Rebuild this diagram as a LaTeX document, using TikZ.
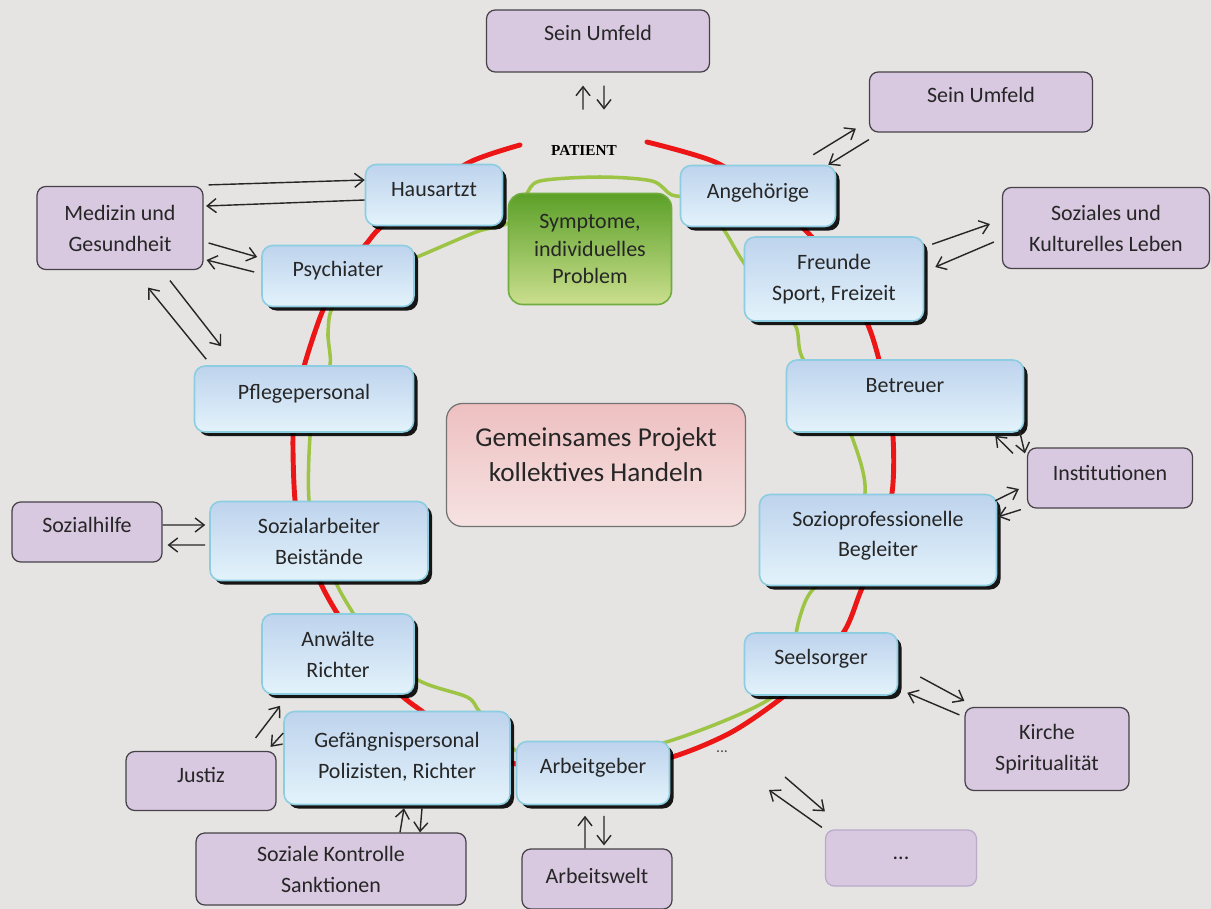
\documentclass[tikz,border=0pt]{standalone}
\usepackage{fontspec}
\setmainfont{Carlito}
\newfontfamily\patientfont{Liberation Serif}
\usepackage{tikz}
\usepackage{xcolor}
\usetikzlibrary{arrows.meta, positioning, backgrounds, calc, shadows}

\definecolor{paper}{RGB}{229,228,227}
\definecolor{roleline}{RGB}{140,205,225}
\definecolor{roletop}{RGB}{190,211,237}
\definecolor{rolebottom}{RGB}{227,243,251}
\definecolor{fieldfill}{RGB}{216,200,224}
\definecolor{fieldline}{RGB}{70,66,72}
\definecolor{fieldlight}{RGB}{185,170,200}
\definecolor{coretop}{RGB}{92,160,40}
\definecolor{corebottom}{RGB}{202,223,142}
\definecolor{coreline}{RGB}{112,172,62}
\definecolor{projecttop}{RGB}{238,192,193}
\definecolor{projectbottom}{RGB}{246,226,226}
\definecolor{ringred}{RGB}{236,22,22}
\definecolor{ringgreen}{RGB}{158,196,70}

\begin{document}
\begin{tikzpicture}[
    x=0.02cm, y=-0.02cm,
    role/.style={rectangle, draw=roleline, line width=0.9pt, top color=roletop, bottom color=rolebottom, rounded corners=6pt, align=center, text=black!85, font=\fontsize{12.5}{17.6}\selectfont, drop shadow={shadow xshift=2.3pt, shadow yshift=-2.3pt, fill=black, opacity=0.9}},
    field/.style={rectangle, draw=fieldline, line width=0.7pt, fill=fieldfill, rounded corners=5pt, align=center, text=black!85, font=\fontsize{12.5}{17.6}\selectfont},
    lift/.style={text depth=#1},
    arrow/.style={-{Straight Barb[length=1.8mm, width=2.8mm]}, line width=0.8pt, black!85},
    ring/.style={line width=2.8pt, ringred, line cap=round},
    link/.style={line width=2pt, ringgreen, line cap=round}
]
\useasboundingbox (0,0) rectangle (1211,909);

% Centre
\node[rectangle, draw=coreline, line width=0.9pt, top color=coretop, bottom color=corebottom, rounded corners=8pt, align=center, text=black!85, font=\fontsize{12.5}{15.5}\selectfont, minimum width=3.26cm, minimum height=2.22cm] (symptome) at (590,249) {Symptome,\\individuelles\\Problem};
\node[font=\patientfont\bfseries\fontsize{8.7}{10}\selectfont, inner sep=0pt] (patient) at (584,150) {PATIENT};
\node[rectangle, draw=black!55, line width=0.7pt, top color=projecttop, bottom color=projectbottom, rounded corners=9pt, align=center, text=black!85, font=\fontsize{15.5}{20}\selectfont, minimum width=5.98cm, minimum height=2.46cm, lift=12pt] (projekt) at (596,465) {Gemeinsames Projekt\\kollektives Handeln};

% Ring of persons
\node[role, minimum width=2.74cm, minimum height=1.22cm, lift=6pt] (hausarzt) at (434,195) {Hausartzt};
\node[role, minimum width=3.10cm, minimum height=1.22cm, lift=6pt] (angehoerige) at (758,196) {Angehörige};
\node[role, minimum width=3.04cm, minimum height=1.22cm, lift=8pt] (psychiater) at (338,276) {Psychiater};
\node[role, minimum width=3.58cm, minimum height=1.68cm] (freunde) at (834,279) {Freunde\\Sport, Freizeit};
\node[role, minimum width=4.38cm, minimum height=1.32cm, lift=8pt] (pflege) at (304,399) {Pflegepersonal};
\node[role, minimum width=4.74cm, minimum height=1.44cm, lift=12.5pt] (betreuer) at (905,396) {Betreuer};
\node[role, minimum width=4.36cm, minimum height=1.58cm] (sozialarbeiter) at (319,541) {Sozialarbeiter\\Beistände};
\node[role, minimum width=4.74cm, minimum height=1.82cm, lift=7pt] (sozioprof) at (878,540) {Sozioprofessionelle\\Begleiter};
\node[role, minimum width=3.04cm, minimum height=1.60cm] (anwaelte) at (338,654) {Anwälte\\Richter};
\node[role, minimum width=3.06cm, minimum height=1.24cm, lift=8pt] (seelsorger) at (821,664) {Seelsorger};
\node[role, minimum width=4.52cm, minimum height=1.86cm, lift=3.5pt] (gefaengnis) at (397,758) {Gefängnispersonal\\Polizisten, Richter};
\node[role, minimum width=3.06cm, minimum height=1.26cm, lift=8pt] (arbeitgeber) at (593,773) {Arbeitgeber};

% Outer fields
\node[field, minimum width=4.46cm, minimum height=1.24cm, lift=9pt] (umfeld) at (598,41) {Sein Umfeld};
\node[field, minimum width=4.46cm, minimum height=1.20cm, lift=8pt] (umfeldrechts) at (981,102) {Sein Umfeld};
\node[field, minimum width=3.32cm, minimum height=1.66cm] (medizin) at (120,228) {Medizin und\\Gesundheit};
\node[field, minimum width=4.14cm, minimum height=1.62cm] (soziales) at (1106,228) {Soziales und\\Kulturelles Leben};
\node[field, minimum width=3.30cm, minimum height=1.20cm, lift=6pt] (institutionen) at (1110,478) {Institutionen};
\node[field, minimum width=3.00cm, minimum height=1.20cm, lift=8pt] (sozialhilfe) at (87,532) {Sozialhilfe};
\node[field, minimum width=3.00cm, minimum height=1.18cm, lift=7pt] (justiz) at (201,781) {Justiz};
\node[field, minimum width=3.28cm, minimum height=1.66cm] (kirche) at (1047,749) {Kirche\\Spiritualität};
\node[field, minimum width=5.40cm, minimum height=1.44cm] (kontrolle) at (331,869) {Soziale Kontrolle\\Sanktionen};
\node[field, minimum width=3.00cm, minimum height=1.20cm, lift=4pt] (arbeitswelt) at (597,879) {Arbeitswelt};
\node[field, draw=fieldlight, minimum width=3.02cm, minimum height=1.12cm] (weitere) at (901,858) {...};
\node[font=\fontsize{9}{10}\selectfont, text=black!70] (etc) at (722,752) {...};

% Arrows - top
\draw[arrow, shorten <=0.7cm, shorten >=0.26cm] ([xshift=-0.02cm]patient.north) -- ([xshift=-0.3cm]umfeld.south);
\draw[arrow, shorten <=0.26cm, shorten >=0.7cm] ([xshift=0.12cm]umfeld.south) -- ([xshift=0.4cm]patient.north);
\draw[arrow] ([xshift=-0.46cm, yshift=0.2cm]angehoerige.north east) -- ([xshift=-0.26cm, yshift=0.08cm]umfeldrechts.south west);
\draw[arrow] ([yshift=-0.14cm]umfeldrechts.south west) -- ([xshift=-0.16cm]angehoerige.north east);

% Arrows - left side
\draw[arrow] ([xshift=0.1cm, yshift=0.02cm]medizin.north east) -- ([yshift=0.3cm]hausarzt.west);
\draw[arrow] ([yshift=-0.1cm]hausarzt.west) -- ([xshift=0.05cm, yshift=0.44cm]medizin.east);
\draw[arrow] ([xshift=0.1cm, yshift=-0.3cm]medizin.east) -- ([xshift=-0.08cm, yshift=0.38cm]psychiater.west);
\draw[arrow] ([xshift=-0.14cm, yshift=0.08cm]psychiater.west) -- ([xshift=0.06cm, yshift=-0.64cm]medizin.east);
\draw[arrow] ([xshift=0.25cm, yshift=0.12cm]pflege.north west) -- ([xshift=0.56cm, yshift=-0.35cm]medizin.south);
\draw[arrow] ([xshift=1.0cm, yshift=-0.21cm]medizin.south) -- ([xshift=0.55cm, yshift=0.38cm]pflege.north west);
\draw[arrow] ([yshift=0.14cm]sozialhilfe.east) -- ([xshift=-0.08cm, yshift=0.32cm]sozialarbeiter.west);
\draw[arrow] ([xshift=-0.08cm, yshift=-0.08cm]sozialarbeiter.west) -- ([xshift=0.1cm, yshift=-0.26cm]sozialhilfe.east);
\draw[arrow] ([xshift=-0.42cm, yshift=0.26cm]justiz.north east) -- ([xshift=0.38cm, yshift=-0.22cm]anwaelte.south west);
\draw[arrow] ([yshift=0.5cm]gefaengnis.west) -- ([xshift=-0.12cm, yshift=0.08cm]justiz.north east);

% Arrows - bottom
\draw[arrow] ([xshift=1.38cm]kontrolle.north) -- ([xshift=0.14cm, yshift=-0.06cm]gefaengnis.south);
\draw[arrow] ([xshift=0.5cm, yshift=-0.06cm]gefaengnis.south) -- ([xshift=1.78cm]kontrolle.north);
\draw[arrow, shorten >=0.21cm] ([xshift=-0.24cm]arbeitswelt.north) -- ([xshift=-0.16cm]arbeitgeber.south);
\draw[arrow, shorten <=0.21cm, shorten >=0.06cm] ([xshift=0.22cm]arbeitgeber.south) -- ([xshift=0.14cm]arbeitswelt.north);
\draw[arrow] ([xshift=1.26cm, yshift=-0.5cm]etc.center) -- ([yshift=0.36cm]weitere.north west);
\draw[arrow] ([xshift=-0.06cm, yshift=0.04cm]weitere.north west) -- ([xshift=0.94cm, yshift=-0.76cm]etc.center);

% Arrows - right side
\draw[arrow] ([xshift=0.16cm, yshift=-0.16cm]freunde.north east) -- ([xshift=-0.24cm, yshift=0.08cm]soziales.west);
\draw[arrow] ([xshift=-0.16cm, yshift=-0.28cm]soziales.west) -- ([xshift=0.22cm, yshift=0.24cm]freunde.east);
\draw[arrow] ([xshift=-0.28cm, yshift=-0.12cm]institutionen.north west) -- ([xshift=-0.58cm, yshift=-0.06cm]betreuer.south east);
\draw[arrow] ([xshift=-0.1cm, yshift=0.06cm]betreuer.south east) -- ([xshift=-0.04cm, yshift=-0.12cm]institutionen.north west);
\draw[arrow] ([xshift=-0.04cm, yshift=-0.14cm]sozioprof.north east) -- ([xshift=-0.16cm, yshift=-0.22cm]institutionen.west);
\draw[arrow] ([xshift=-0.12cm, yshift=-0.02cm]institutionen.south west) -- ([xshift=0.02cm, yshift=-0.46cm]sozioprof.north east);
\draw[arrow] ([xshift=0.44cm, yshift=-0.26cm]seelsorger.east) -- ([yshift=0.12cm]kirche.north west);
\draw[arrow] ([xshift=-0.1cm, yshift=-0.16cm]kirche.north west) -- ([xshift=0.18cm, yshift=0.06cm]seelsorger.south east);

% Background: paper, red ring and green thread
\begin{scope}[on background layer]
    \fill[paper] (0,0) rectangle (1211,909);
    \draw[ring] plot[smooth] coordinates {(647,142) (715,162) (765,195) (810,235) (845,280) (870,330) (885,385) (893,437) (892,493) (877,550) (860,593) (845,630) (815,668) (779,700) (730,733) (672,757) (600,772) (520,765) (460,740) (423,712) (400,694) (365,655) (337,613) (320,582) (303,540) (295,500) (293,437) (297,400) (305,363) (323,310) (345,270) (367,243) (380,228) (420,195) (470,162) (520,145)};
    \draw[link] plot[smooth cycle] coordinates {(540,181) (600,177) (652,181) (672,195) (700,200) (724,230) (744,263) (775,300) (796,327) (802,357) (832,400) (852,437) (865,493) (840,560) (810,593) (799,620) (790,660) (768,700) (663,743) (560,760) (515,750) (480,712) (467,697) (418,680) (370,640) (353,613) (338,587) (320,545) (309,500) (310,437) (317,400) (330,365) (328,333) (334,305) (370,275) (417,257) (476,232) (510,222) (526,195)};
\end{scope}

\end{tikzpicture}
\end{document}
